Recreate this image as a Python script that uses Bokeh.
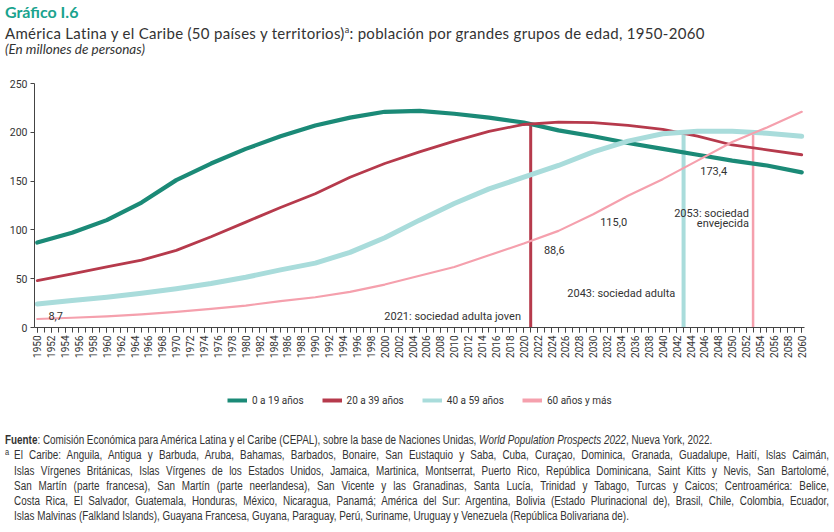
from bokeh.plotting import figure
from bokeh.models import (ColumnDataSource, Legend, LegendItem, Label, FixedTicker,
                          Div, Range1d)
from bokeh.layouts import column
from bokeh.embed import file_html
from bokeh.resources import INLINE

# ---------------- data ----------------
years = [1950, 1955, 1960, 1965, 1970, 1975, 1980, 1985, 1990, 1995, 2000, 2005,
         2010, 2015, 2020, 2025, 2030, 2035, 2040, 2045, 2050, 2055, 2060]
age_0_19 = [87, 97, 110, 128, 151, 168, 183, 196, 207, 215, 221, 222,
            219, 215, 210, 202, 196, 189, 183, 177, 171, 166, 159]
age_20_39 = [48, 55, 62, 69, 79, 93, 108, 123, 137, 154, 168, 180,
             191, 201, 208, 210.5, 210, 207, 203, 196, 187, 182, 177]
age_40_59 = [24, 27.6, 31, 35, 39.6, 45, 51.5, 59, 66, 77, 92, 110,
             127, 142, 154, 166, 180, 191, 198.5, 201, 201, 199, 196]
age_60_plus = [8.7, 10, 11.5, 13.5, 16, 19, 22.5, 27, 31, 36.5, 44, 53,
               62, 74, 86, 99, 116, 135, 152, 171, 190, 205, 221]

series_names = ["0 a 19 años", "20 a 39 años", "40 a 59 años", "60 años y más"]
series_colors = ["#1b8a77", "#b63a4c", "#a9dcdb", "#f5a0ad"]
series_widths = [4.2, 2.8, 5, 2.2]

milestone_years = [2021, 2043, 2053]
milestone_tops = [208.5, 200, 199]
milestone_colors = ["#b63a4c", "#a9dcdb", "#f5a0ad"]
milestone_widths = [3, 4, 2.5]

y_ticks = [0, 50, 100, 150, 200, 250]
x_label_ticks = list(range(1950, 2061, 2))
x_minor_ticks = list(range(1950, 2061))

# annotation texts: (text, year, value, align)
annotations = [
    ("8,7", 1951.6, 11.3, "left"),
    ("88,6", 2022.9, 79.0, "left"),
    ("115,0", 2031.0, 108.0, "left"),
    ("173,4", 2045.4, 160.0, "left"),
    ("2053: sociedad", 2052.4, 116.5, "right"),
    ("envejecida", 2052.4, 106.3, "right"),
    ("2043: sociedad adulta", 2041.8, 34.5, "right"),
    ("2021: sociedad adulta joven", 2019.6, 11.6, "right"),
]

FONT = "Roboto"
TXT = "#333333"
series = [age_0_19, age_20_39, age_40_59, age_60_plus]

# ---------------- title ----------------
title_html = """
<div style="padding:2px 0 0 5px; font-family:'Lato','Open Sans',sans-serif; color:#333; white-space:nowrap;">
  <div style="color:#1aa38e; font-weight:bold; font-size:16px; line-height:19px;">Gráfico I.6</div>
  <div style="font-size:15px; line-height:18px; letter-spacing:0.3px;">América Latina y el Caribe (50 países y territorios)<sup style="font-size:9px;">a</sup>: población por grandes grupos de edad, 1950-2060</div>
  <div style="font-style:italic; font-size:13.5px; line-height:15px;">(En millones de personas)</div>
</div>
"""
title_div = Div(text=title_html, width=834, height=60, margin=(0, 0, 0, 0))

# ---------------- main figure ----------------
p = figure(width=834, height=310, output_backend="svg", toolbar_location=None,
           x_range=Range1d(1949.6, 2060.4), y_range=Range1d(0, 250),
           min_border_left=34, min_border_right=30, min_border_top=23,
           min_border_bottom=43)
p.outline_line_color = None
p.xgrid.visible = False
p.ygrid.visible = False
p.background_fill_color = None
p.border_fill_color = None

ms = ColumnDataSource(dict(x=milestone_years, top=milestone_tops,
                           color=milestone_colors, w=milestone_widths,
                           base=[0] * len(milestone_years)))
p.segment(x0="x", y0="base", x1="x", y1="top", line_color="color",
          line_width="w", source=ms)

for vals, col, w in zip(series, series_colors, series_widths):
    src = ColumnDataSource(dict(x=years, y=vals))
    p.line("x", "y", source=src, line_color=col, line_width=w,
           line_join="round", line_cap="round")

xa = p.xaxis[0]
xa.ticker = FixedTicker(ticks=x_label_ticks, minor_ticks=x_minor_ticks)
xa.major_label_orientation = 3.14159265 / 2
xa.major_label_text_font = FONT
xa.major_label_text_font_size = "10px"
xa.major_label_text_color = TXT
xa.major_tick_in = 0
xa.major_tick_out = 5
xa.minor_tick_in = 0
xa.minor_tick_out = 5
xa.axis_line_color = "#444444"
xa.major_tick_line_color = "#444444"
xa.minor_tick_line_color = "#444444"
xa.major_label_standoff = 3

ya = p.yaxis[0]
ya.ticker = FixedTicker(ticks=y_ticks)
ya.major_label_text_font = FONT
ya.major_label_text_font_size = "10.5px"
ya.major_label_text_color = TXT
ya.major_tick_in = 0
ya.major_tick_out = 4
ya.minor_tick_line_color = None
ya.axis_line_color = "#444444"
ya.major_tick_line_color = "#444444"
ya.major_label_standoff = 3

for txt, xv, yv, al in annotations:
    p.add_layout(Label(x=xv, y=yv, text=txt, text_align=al,
                       text_baseline="alphabetic", text_font=FONT,
                       text_font_size="11px", text_color=TXT))

# ---------------- legend strip ----------------
lg = figure(width=834, height=50, output_backend="svg", toolbar_location=None,
            x_range=Range1d(0, 1), y_range=Range1d(0, 1),
            min_border_left=0, min_border_right=0, min_border_top=0,
            min_border_bottom=0, x_axis_location=None, y_axis_location=None)
lg.outline_line_color = None
lg.xgrid.visible = False
lg.ygrid.visible = False
lg.background_fill_color = None
lg.border_fill_color = None
items = []
for name, vals, col, w in zip(series_names, series, series_colors, series_widths):
    src = ColumnDataSource(dict(x=years, y=vals))
    r = lg.line("x", "y", source=src, line_color=col, line_width=4)
    items.append(LegendItem(label=name, renderers=[r]))
legend = Legend(items=items, orientation="horizontal", location=(193, 12),
                glyph_width=20, glyph_height=16, label_height=16,
                label_standoff=5, spacing=18, padding=0, margin=0,
                border_line_color=None, background_fill_alpha=0,
                label_text_font=FONT, label_text_font_size="10px",
                label_text_color=TXT)
lg.add_layout(legend)

# ---------------- footer ----------------
j = "text-align:justify; text-align-last:justify; white-space:nowrap;"
footer_html = f"""
<div style="padding:13px 0 0 5px;">
<div style="width:1000px; transform:scaleX(0.824); transform-origin:0 0; font-family:'Liberation Sans',Arial,sans-serif; font-size:12px; line-height:15.3px; color:#333;">
  <div style="white-space:nowrap;"><b>Fuente</b>: Comisión Económica para América Latina y el Caribe (CEPAL), sobre la base de Naciones Unidas, <i>World Population Prospects 2022</i>, Nueva York, 2022.</div>
  <div style="padding-left:11px; position:relative; {j}"><span style="position:absolute; left:0; top:-3px; font-size:9px;">a</span>El Caribe: Anguila, Antigua y Barbuda, Aruba, Bahamas, Barbados, Bonaire, San Eustaquio y Saba, Cuba, Curaçao, Dominica, Granada, Guadalupe, Haití, Islas Caimán,</div>
  <div style="padding-left:11px; {j}">Islas Vírgenes Británicas, Islas Vírgenes de los Estados Unidos, Jamaica, Martinica, Montserrat, Puerto Rico, República Dominicana, Saint Kitts y Nevis, San Bartolomé,</div>
  <div style="padding-left:11px; {j}">San Martín (parte francesa), San Martín (parte neerlandesa), San Vicente y las Granadinas, Santa Lucía, Trinidad y Tabago, Turcas y Caicos; Centroamérica: Belice,</div>
  <div style="padding-left:11px; {j}">Costa Rica, El Salvador, Guatemala, Honduras, México, Nicaragua, Panamá; América del Sur: Argentina, Bolivia (Estado Plurinacional de), Brasil, Chile, Colombia, Ecuador,</div>
  <div style="padding-left:11px; white-space:nowrap;">Islas Malvinas (Falkland Islands), Guayana Francesa, Guyana, Paraguay, Perú, Suriname, Uruguay y Venezuela (República Bolivariana de).</div>
</div>
</div>
"""
footer_div = Div(text=footer_html, width=834, height=112, margin=(0, 0, 0, 0))

layout = column(title_div, p, lg, footer_div, spacing=0)
open("out.html", "w").write(file_html(layout, INLINE))
